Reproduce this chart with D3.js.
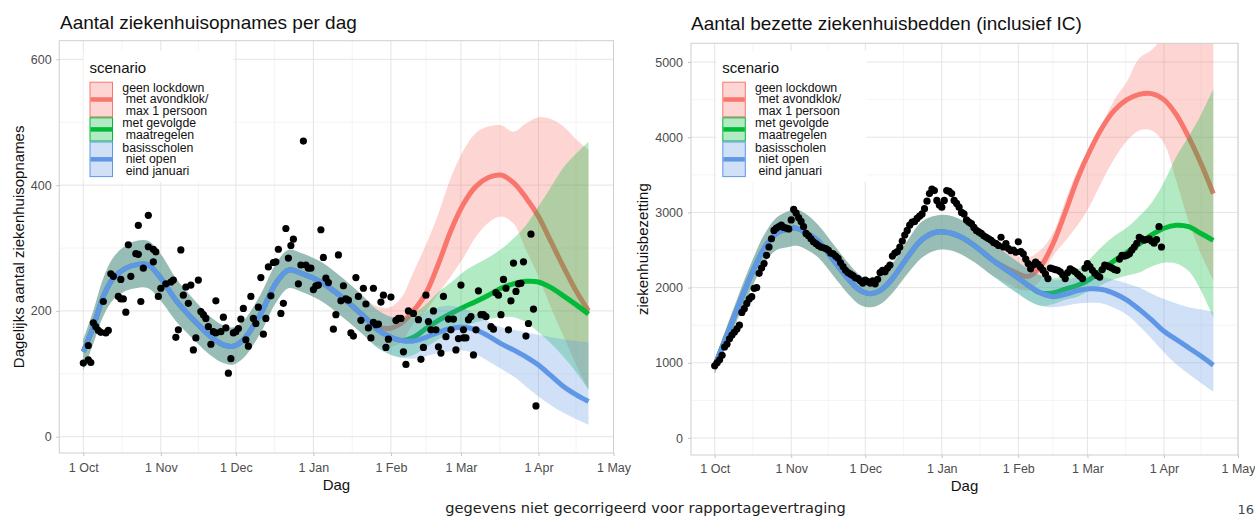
<!DOCTYPE html>
<html>
<head>
<meta charset="utf-8">
<script src="https://cdn.jsdelivr.net/npm/d3@7"></script>
<style>
  body { margin: 0; background: #fff; }
  svg { font-family: "Liberation Sans", Arial, sans-serif; }
</style>
</head>
<body>
<svg id="chart" width="1255" height="516"></svg>
<script>
// ---- data (days counted from 1 Oct 2020) ----
const xTickDays = [0, 31, 61, 92, 123, 151, 182, 212];
const xTickLabels = ["1 Oct", "1 Nov", "1 Dec", "1 Jan", "1 Feb", "1 Mar", "1 Apr", "1 May"];

const admYTicks = [0, 200, 400, 600];
const admYMinor = [100, 300, 500];
const bedYTicks = [0, 1000, 2000, 3000, 4000, 5000];
const bedYMinor = [500, 1500, 2500, 3500, 4500];

const scenarioNames = ["red", "green", "blue"];
const scenarioColors = ["#F8766D", "#00BA38", "#5F97E6"];
const scenarioLabels = [
    ["geen lockdown", " met avondklok/", " max 1 persoon"],
    ["met gevolgde", " maatregelen"],
    ["basisscholen", " niet open", " eind januari"]
];

// daily admissions, [day, value]
const admissionPoints = [
    [0,117],[2,122],[3,118],[2,145],[4,181],[5,175],[6,169],[7,166],[9,165],[10,169],[8,215],
    [11,259],[12,255],[14,223],[15,219],[16,219],[15,250],[17,198],[18,305],[19,255],[21,291],
    [22,290],[22,336],[23,215],[24,268],[26,352],[26,302],[28,298],[29,294],[28,278],[30,223],
    [31,236],[33,243],[35,246],[36,249],[37,158],[38,170],[39,297],[40,225],[41,238],[43,241],
    [42,212],[44,138],[45,157],[46,249],[47,199],[48,194],[49,188],[51,147],[50,175],[52,167],
    [53,165],[55,167],[57,173],[53,216],[56,190],[58,101],[59,124],[60,165],[61,167],[62,172],
    [63,187],[64,204],[65,154],[66,144],[67,223],[68,188],[69,180],[70,206],[71,253],[72,163],
    [73,188],[74,270],[75,224],[76,277],[77,278],[78,298],[79,196],[80,212],[81,331],[82,284],
    [83,304],[84,314],[86,243],[87,273],[89,273],[90,268],[91,268],[88,470],[92,234],[93,240],
    [94,241],[95,329],[96,285],[97,252],[98,245],[100,171],[101,194],[102,289],[103,216],[105,219],
    [106,217],[104,240],[107,165],[108,160],[109,253],[110,223],[111,185],[112,236],[113,211],
    [114,173],[116,182],[117,178],[118,179],[116,236],[115,157],[119,214],[120,225],[121,142],
    [122,155],[123,222],[125,185],[126,188],[127,188],[128,135],[129,115],[130,200],[132,196],
    [134,186],[135,123],[136,142],[137,225],[138,183],[139,170],[141,170],[140,200],[142,143],
    [143,133],[144,223],[145,159],[146,187],[148,187],[147,170],[149,138],[150,156],[152,157],
    [153,157],[151,241],[152,170],[154,186],[155,191],[156,130],[157,170],[158,232],[159,194],
    [160,194],[161,191],[163,175],[164,171],[165,229],[166,225],[167,194],[168,250],[169,236],
    [170,170],[171,216],[172,276],[173,231],[174,243],[175,244],[176,278],[177,160],[178,180],
    [179,322],[180,203],[181,49]
];

// occupied beds, one value per day from 1 Oct
const bedsDaily = [
    960, 1000, 1040, 1100, 1210, 1250, 1320, 1370, 1410, 1450, 1500, 1670, 1720, 1790, 1850, 1880,
    1990, 2000, 2190, 2260, 2320, 2430, 2540, 2650,
    2760, 2790, 2810, 2830, 2800, 2790, 2780, 2900,
    3040, 2990, 2930, 2880, 2810, 2720, 2690, 2650, 2610, 2585, 2560, 2540, 2530, 2520, 2500, 2460,
    2450, 2420, 2390, 2330, 2280,
    2230, 2200, 2180, 2160, 2130, 2120, 2090, 2060, 2100, 2080, 2060, 2090, 2050, 2110,
    2200, 2230, 2210, 2260, 2300, 2420, 2460, 2480, 2540, 2620, 2700, 2760, 2830, 2870, 2880, 2920,
    2950, 2980,
    3050, 3150, 3250, 3310, 3290, 3160, 3100, 3070, 3160, 3290, 3280, 3250, 3160, 3120, 3070, 3000,
    2980, 2900, 2870, 2850, 2800, 2760, 2740, 2720, 2690, 2670, 2650, 2630, 2600, 2585, 2560,
    2670, 2540, 2585, 2520, 2490, 2500, 2470, 2610, 2480, 2450, 2380, 2320, 2250, 2300, 2340, 2310,
    2270, 2230, 2180, 2120, 2260, 2250, 2240, 2230, 2210, 2170, 2120, 2200, 2250, 2230, 2210, 2180,
    2150, 2120, 2260, 2320, 2280, 2230, 2190, 2160, 2140, 2240, 2300, 2290, 2275, 2260, 2240, 2230,
    2380, 2430, 2420, 2430, 2450, 2500, 2540, 2590, 2670, 2650, 2630, 2640, 2650, 2620, 2590, 2640,
    2810, 2540
];

// model fit, shared history
const admHistDays = [0, 4, 8, 12, 17, 22, 26, 31, 37, 44, 51, 56, 60, 64, 71, 77, 82, 87, 95, 104, 112];
const admHistMid = [135, 175, 223, 252, 268, 274, 273, 252, 217, 186, 159, 146, 144, 154, 196, 244, 265, 260, 246, 220, 192];
const admHistLo = [105, 148, 192, 218, 232, 237, 236, 216, 184, 155, 129, 117, 115, 125, 166, 213, 236, 231, 216, 189, 162];
const admHistHi = [155, 200, 252, 285, 304, 312, 311, 290, 252, 219, 190, 177, 174, 184, 227, 275, 297, 292, 278, 251, 223];

const bedHistDays = [0, 5, 10, 15, 20, 25, 30, 33, 37, 42, 48, 54, 59, 63, 67, 72, 78, 84, 90, 95, 100, 106, 112];
const bedHistMid = [960, 1370, 1790, 2180, 2520, 2720, 2780, 2790, 2730, 2620, 2370, 2120, 1960, 1920, 1960, 2120, 2400, 2640, 2740, 2730, 2670, 2540, 2380];
const bedHistLo = [850, 1250, 1640, 2000, 2320, 2500, 2540, 2560, 2510, 2400, 2160, 1920, 1770, 1740, 1780, 1930, 2180, 2400, 2500, 2500, 2440, 2320, 2170];
const bedHistHi = [1040, 1490, 1930, 2340, 2700, 2930, 3020, 3040, 2980, 2830, 2580, 2330, 2160, 2110, 2150, 2320, 2620, 2880, 2960, 2960, 2900, 2770, 2600];

// scenarios
const scenDays = [117, 122, 127, 132, 137, 142, 147, 152, 157, 162, 167, 172, 177, 182, 187, 192, 197, 202];

const admRedMid = [176, 172, 180, 200, 228, 275, 328, 370, 398, 412, 416, 404, 380, 350, 310, 270, 232, 200];
const admRedLo = [146, 142, 150, 180, 200, 228, 255, 285, 318, 340, 350, 339, 297, 255, 205, 160, 115, 75];
const admRedHi = [208, 205, 220, 262, 305, 355, 412, 455, 483, 493, 495, 485, 498, 508, 505, 493, 473, 456];
const admGreenMid = [172, 160, 153, 158, 172, 185, 196, 206, 215, 225, 236, 243, 247, 246, 237, 224, 210, 195];
const admGreenLo = [143, 132, 126, 130, 142, 155, 166, 175, 182, 187, 190, 190, 182, 166, 148, 127, 103, 75];
const admGreenHi = [203, 192, 188, 196, 210, 230, 245, 262, 274, 285, 298, 315, 336, 366, 397, 428, 450, 469];
const admBlueMid = [172, 160, 153, 152, 158, 166, 172, 174, 170, 160, 148, 138, 127, 114, 97, 80, 67, 56];
const admBlueLo = [143, 132, 126, 124, 128, 133, 136, 137, 131, 120, 108, 96, 80, 64, 50, 38, 28, 19];
const admBlueHi = [203, 192, 188, 190, 198, 206, 208, 204, 195, 183, 174, 170, 166, 162, 158, 155, 152, 150];

const bedRedMid = [2280, 2200, 2150, 2280, 2580, 3000, 3450, 3820, 4130, 4360, 4500, 4570, 4580, 4500, 4300, 4000, 3650, 3250];
const bedRedLo = [2080, 2000, 1960, 2100, 2420, 2620, 2830, 3090, 3420, 3720, 3950, 4090, 4090, 3920, 3420, 2880, 2450, 2100];
const bedRedHi = [2500, 2420, 2400, 2500, 2720, 3150, 3560, 3870, 4180, 4500, 4740, 5050, 5160, 5350, 5500, 5600, 5650, 5700];
const bedGreenMid = [2260, 2150, 2030, 1930, 1930, 1980, 2030, 2110, 2240, 2360, 2470, 2580, 2700, 2790, 2830, 2810, 2720, 2629];
const bedGreenLo = [2050, 1940, 1830, 1760, 1780, 1840, 1880, 1960, 2040, 2110, 2160, 2200, 2280, 2330, 2320, 2220, 1960, 1600];
const bedGreenHi = [2480, 2360, 2250, 2160, 2120, 2160, 2240, 2380, 2550, 2690, 2800, 2950, 3130, 3400, 3740, 4010, 4300, 4644];
const bedBlueMid = [2260, 2150, 2030, 1930, 1880, 1910, 1960, 1985, 1975, 1920, 1835, 1710, 1570, 1420, 1310, 1200, 1090, 969];
const bedBlueLo = [2050, 1940, 1830, 1760, 1740, 1760, 1790, 1800, 1790, 1730, 1640, 1490, 1320, 1140, 980, 850, 730, 615];
const bedBlueHi = [2480, 2360, 2250, 2160, 2100, 2110, 2130, 2150, 2140, 2100, 2055, 2000, 1920, 1850, 1790, 1740, 1710, 1680];

// ---- helpers ----
const start = Date.UTC(2020, 9, 1);
const toDate = d => new Date(start + d * 864e5);

function buildSeries(histDays, hLo, hMid, hHi, lo, mid, hi) {
    const days = histDays.concat(scenDays);
    const l = hLo.concat(lo), m = hMid.concat(mid), h = hHi.concat(hi);
    return days.map((d, i) => ({ date: toDate(d), lo: l[i], mid: m[i], hi: h[i] }));
}

const panels = [
    {
        id: "adm",
        title: "Aantal ziekenhuisopnames per dag", titleX: 60, titleY: 29,
        yTitle: "Dagelijks aantal ziekenhuisopnames", yTitleX: 23.5,
        left: 59.3, right: 613.5, top: 40.7, bottom: 453,
        yDomain: [-25.9, 629.6], yTicks: admYTicks, yMinor: admYMinor,
        xPad: 7.6, yPad: 4.6, dagY: 489.5, legendX: 89.5,
        points: admissionPoints.map(p => ({ date: toDate(p[0]), v: p[1] })),
        series: [
            buildSeries(admHistDays, admHistLo, admHistMid, admHistHi, admRedLo, admRedMid, admRedHi),
            buildSeries(admHistDays, admHistLo, admHistMid, admHistHi, admGreenLo, admGreenMid, admGreenHi),
            buildSeries(admHistDays, admHistLo, admHistMid, admHistHi, admBlueLo, admBlueMid, admBlueHi)
        ]
    },
    {
        id: "bed",
        title: "Aantal bezette ziekenhuisbedden (inclusief IC)", titleX: 691, titleY: 30,
        yTitle: "ziekenhuisbezetting", yTitleX: 647.5,
        left: 691, right: 1238, top: 43.3, bottom: 455,
        yDomain: [-226, 5249], yTicks: bedYTicks, yMinor: bedYMinor,
        xPad: 5.8, yPad: 5, dagY: 490.5, legendX: 722.3,
        points: bedsDaily.map((v, i) => ({ date: toDate(i), v: v })),
        series: [
            buildSeries(bedHistDays, bedHistLo, bedHistMid, bedHistHi, bedRedLo, bedRedMid, bedRedHi),
            buildSeries(bedHistDays, bedHistLo, bedHistMid, bedHistHi, bedGreenLo, bedGreenMid, bedGreenHi),
            buildSeries(bedHistDays, bedHistLo, bedHistMid, bedHistHi, bedBlueLo, bedBlueMid, bedBlueHi)
        ]
    }
];

const svg = d3.select("#chart");
svg.append("rect").attr("width", 1255).attr("height", 516).attr("fill", "#fff");

panels.forEach(drawPanel);

function drawPanel(p) {
    const x = d3.scaleUtc().domain([toDate(-9.6), toDate(212)]).range([p.left, p.right]);
    const y = d3.scaleLinear().domain(p.yDomain).range([p.bottom, p.top]);
    const g = svg.append("g");

    svg.append("clipPath").attr("id", "clip-" + p.id)
        .append("rect")
        .attr("x", p.left).attr("y", p.top)
        .attr("width", p.right - p.left).attr("height", p.bottom - p.top);

    // minor grid: midway between month ticks
    const xMinor = d3.pairs(xTickDays).map(([a, b]) => (a + b) / 2);
    g.selectAll(".vminor").data(xMinor).join("line")
        .attr("x1", d => x(toDate(d))).attr("x2", d => x(toDate(d)))
        .attr("y1", p.top).attr("y2", p.bottom)
        .attr("stroke", "#f1f1f1").attr("stroke-width", 0.8);
    g.selectAll(".hminor").data(p.yMinor).join("line")
        .attr("x1", p.left).attr("x2", p.right)
        .attr("y1", d => y(d)).attr("y2", d => y(d))
        .attr("stroke", "#f1f1f1").attr("stroke-width", 0.8);
    g.selectAll(".vmajor").data(xTickDays).join("line")
        .attr("x1", d => x(toDate(d))).attr("x2", d => x(toDate(d)))
        .attr("y1", p.top).attr("y2", p.bottom)
        .attr("stroke", "#e4e4e4").attr("stroke-width", 1);
    g.selectAll(".hmajor").data(p.yTicks).join("line")
        .attr("x1", p.left).attr("x2", p.right)
        .attr("y1", d => y(d)).attr("y2", d => y(d))
        .attr("stroke", "#e4e4e4").attr("stroke-width", 1);

    // ribbons + lines, one scenario at a time
    const data = g.append("g").attr("clip-path", "url(#clip-" + p.id + ")");
    const area = d3.area().x(d => x(d.date)).y0(d => y(d.lo)).y1(d => y(d.hi))
        .curve(d3.curveCatmullRom.alpha(0.5));
    const line = d3.line().x(d => x(d.date)).y(d => y(d.mid))
        .curve(d3.curveCatmullRom.alpha(0.5));

    p.series.forEach((s, i) => {
        data.append("path").datum(s)
            .attr("class", "ribbon " + scenarioNames[i])
            .attr("d", area)
            .attr("fill", scenarioColors[i]).attr("fill-opacity", 0.3);
        data.append("path").datum(s)
            .attr("class", "fit " + scenarioNames[i])
            .attr("d", line)
            .attr("fill", "none").attr("stroke", scenarioColors[i]).attr("stroke-width", 5);
    });

    data.selectAll(".pt").data(p.points).join("circle")
        .attr("class", "pt")
        .attr("cx", d => x(d.date)).attr("cy", d => y(d.v))
        .attr("r", 3.6).attr("fill", "#000");

    // panel border
    g.append("rect")
        .attr("x", p.left).attr("y", p.top)
        .attr("width", p.right - p.left).attr("height", p.bottom - p.top)
        .attr("fill", "none").attr("stroke", "#cfcfcf").attr("stroke-width", 1);

    // axes
    const xAxis = d3.axisBottom(x)
        .tickValues(xTickDays.map(toDate))
        .tickFormat((d, i) => xTickLabels[i])
        .tickSize(3).tickPadding(p.xPad);
    const gx = g.append("g").attr("transform", "translate(0," + p.bottom + ")").call(xAxis);
    const yAxis = d3.axisLeft(y).tickValues(p.yTicks).tickFormat(d3.format("d"))
        .tickSize(3).tickPadding(p.yPad);
    const gy = g.append("g").attr("transform", "translate(" + p.left + ",0)").call(yAxis);
    [gx, gy].forEach(a => {
        a.select(".domain").remove();
        a.selectAll(".tick line").attr("stroke", "#c4c4c4");
        a.selectAll(".tick text")
            .attr("fill", "#4d4d4d")
            .style("font-size", "12.5px")
            .style("font-family", "'Liberation Sans', Arial, sans-serif");
    });

    // titles
    svg.append("text")
        .attr("x", p.titleX).attr("y", p.titleY)
        .style("font-size", "19px").attr("fill", "#111")
        .text(p.title);
    svg.append("text")
        .attr("x", (p.left + p.right) / 2).attr("y", p.dagY)
        .attr("text-anchor", "middle")
        .style("font-size", "15px").attr("fill", "#111")
        .text("Dag");
    svg.append("text")
        .attr("transform", "translate(" + p.yTitleX + "," + (p.top + p.bottom) / 2 + ") rotate(-90)")
        .attr("text-anchor", "middle")
        .style("font-size", "15px").attr("fill", "#111")
        .text(p.yTitle);

    drawLegend(p.legendX);
}

function drawLegend(lx) {
    const lg = svg.append("g").attr("class", "legend");
    lg.append("rect")
        .attr("x", lx - 6).attr("y", 51)
        .attr("width", 150).attr("height", 131)
        .attr("fill", "#fff");
    lg.append("text")
        .attr("x", lx).attr("y", 72.7)
        .style("font-size", "15px").attr("fill", "#111")
        .text("scenario");

    const keyW = 23.5, lineH = 11.7;
    let ky = 81.7;
    scenarioLabels.forEach((lines, i) => {
        const h = lines.length === 3 ? 35.6 : 24.2;
        lg.append("rect")
            .attr("x", lx + 0.5).attr("y", ky + 0.5)
            .attr("width", keyW - 1).attr("height", h - 1)
            .attr("fill", scenarioColors[i]).attr("fill-opacity", 0.3)
            .attr("stroke", scenarioColors[i]).attr("stroke-width", 1);
        lg.append("line")
            .attr("x1", lx + 1).attr("x2", lx + keyW - 1)
            .attr("y1", ky + h / 2).attr("y2", ky + h / 2)
            .attr("stroke", scenarioColors[i]).attr("stroke-width", 4.5);
        lines.forEach((t, j) => {
            lg.append("text")
                .attr("x", lx + 32.8).attr("y", ky + 10 + j * lineH)
                .style("font-size", "12.3px").style("white-space", "pre")
                .attr("fill", "#111")
                .text(t);
        });
        ky += h;
    });
}

// footer
svg.append("text")
    .attr("x", 645.5).attr("y", 512.5)
    .attr("text-anchor", "middle")
    .style("font-family", "'DejaVu Sans', Verdana, sans-serif")
    .style("font-size", "14.6px").attr("fill", "#1c1c1c")
    .text("gegevens niet gecorrigeerd voor rapportagevertraging");
svg.append("text")
    .attr("x", 1254).attr("y", 514)
    .attr("text-anchor", "end")
    .style("font-family", "'DejaVu Sans', Verdana, sans-serif")
    .style("font-size", "13px").attr("fill", "#404a55")
    .text("16");
</script>
</body>
</html>
